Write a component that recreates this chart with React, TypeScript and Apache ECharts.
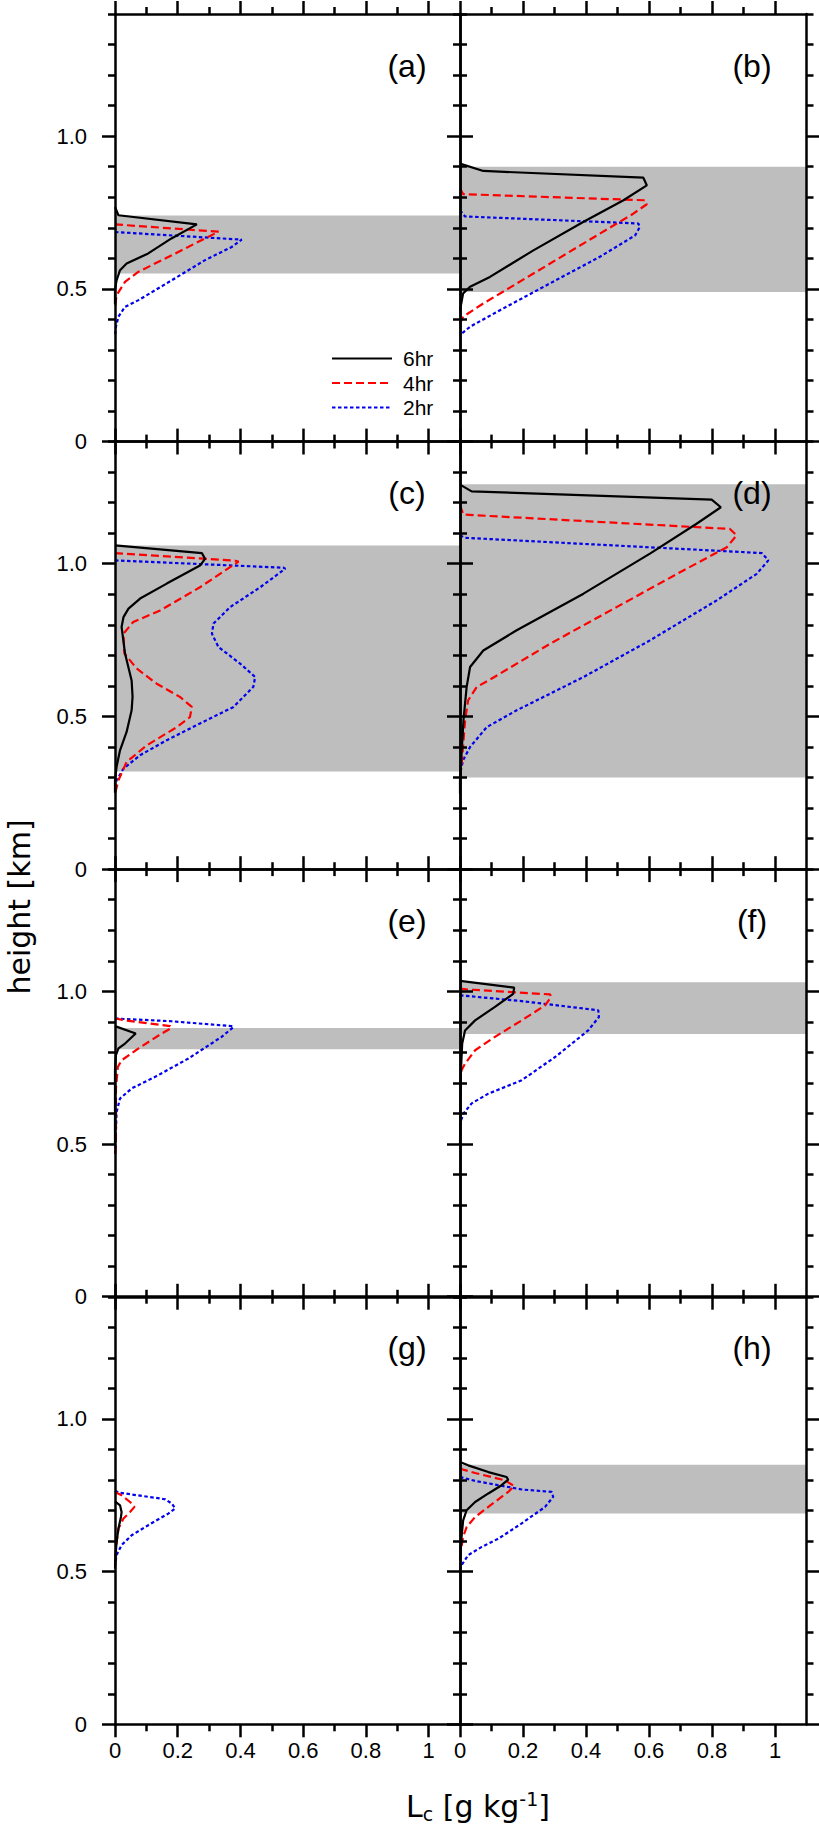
import React, { useEffect, useRef } from 'react';
import * as echarts from 'echarts';

// ---- data ----
const panelLabels = ['(a)', '(b)', '(c)', '(d)', '(e)', '(f)', '(g)', '(h)'];
const seriesNames = ['6hr', '4hr', '2hr'];
const xTickValues = [0, 0.2, 0.4, 0.6, 0.8, 1];
const xMinorValues = [0.1, 0.3, 0.5, 0.7, 0.9];
const yTickValues = [0, 0.5, 1.0];
const yMinorValues = [0.1, 0.2, 0.3, 0.4, 0.6, 0.7, 0.8, 0.9, 1.1, 1.2, 1.3, 1.4];
const xTitle = '{m|L}{s|c}{m| [g kg}{p|-1}{m|]}';
const yTitle = 'height [km]';

// [Lc, height] pairs
const a6 = [[0, 0.768], [0.011, 0.741], [0.261, 0.711], [0.18, 0.665], [0.106, 0.616], [0.037, 0.583], [0.016, 0.561], [0.005, 0.528], [0, 0.496], [0, 0.45]];
const a4 = [[0, 0.711], [0.33, 0.687], [0.287, 0.665], [0.181, 0.61], [0.075, 0.556], [0.032, 0.523], [0.005, 0.479], [0, 0.44]];
const a2 = [[0, 0.686], [0.404, 0.661], [0.372, 0.637], [0.287, 0.594], [0.181, 0.528], [0.075, 0.463], [0.032, 0.441], [0.011, 0.409], [0.003, 0.376], [0, 0.343]];

const b6 = [[0, 0.91], [0.074, 0.886], [0.582, 0.864], [0.593, 0.839], [0.519, 0.79], [0.391, 0.719], [0.233, 0.626], [0.095, 0.539], [0.032, 0.507], [0.01, 0.485], [0, 0.43]];
const b4 = [[0, 0.828], [0.01, 0.81], [0.587, 0.79], [0.593, 0.777], [0.55, 0.746], [0.391, 0.648], [0.233, 0.55], [0.074, 0.452], [0.01, 0.409], [0, 0.386]];
const b2 = [[0, 0.757], [0.016, 0.737], [0.566, 0.714], [0.571, 0.703], [0.556, 0.675], [0.444, 0.605], [0.286, 0.518], [0.127, 0.43], [0.032, 0.376], [0, 0.349]];

const c6 = [[0, 1.06], [0.277, 1.035], [0.287, 1.016], [0.271, 0.994], [0.165, 0.935], [0.08, 0.886], [0.043, 0.853], [0.027, 0.825], [0.021, 0.793], [0.032, 0.706], [0.053, 0.618], [0.056, 0.564], [0.053, 0.52], [0.037, 0.449], [0.016, 0.389], [0.005, 0.335], [0, 0.29], [0, 0.25]];
const c4 = [[0, 1.035], [0.383, 1.01], [0.394, 1.007], [0.367, 0.989], [0.271, 0.923], [0.144, 0.847], [0.058, 0.809], [0.027, 0.771], [0.03, 0.706], [0.069, 0.657], [0.133, 0.607], [0.207, 0.564], [0.245, 0.531], [0.239, 0.498], [0.197, 0.465], [0.101, 0.405], [0.037, 0.351], [0.011, 0.291], [0, 0.247]];
const c2 = [[0, 1.011], [0.537, 0.987], [0.543, 0.984], [0.463, 0.923], [0.367, 0.858], [0.314, 0.804], [0.309, 0.771], [0.33, 0.727], [0.399, 0.673], [0.447, 0.629], [0.441, 0.597], [0.378, 0.531], [0.271, 0.477], [0.165, 0.422], [0.08, 0.373], [0.027, 0.329], [0.005, 0.291], [0, 0.269]];

const d6 = [[0, 1.259], [0.037, 1.237], [0.799, 1.21], [0.828, 1.185], [0.751, 1.131], [0.603, 1.033], [0.392, 0.902], [0.18, 0.782], [0.074, 0.716], [0.032, 0.662], [0.021, 0.596], [0.011, 0.487], [0.005, 0.378], [0, 0.291], [0, 0.247]];
const d4 = [[0, 1.191], [0.011, 1.161], [0.857, 1.114], [0.878, 1.093], [0.847, 1.054], [0.709, 0.978], [0.497, 0.858], [0.286, 0.738], [0.127, 0.64], [0.053, 0.596], [0.026, 0.553], [0.016, 0.487], [0.008, 0.378], [0.002, 0.313]];
const d2 = [[0, 1.093], [0.016, 1.085], [0.958, 1.035], [0.979, 1.011], [0.942, 0.967], [0.815, 0.88], [0.603, 0.749], [0.392, 0.629], [0.18, 0.52], [0.085, 0.465], [0.032, 0.4], [0.01, 0.357], [0, 0.313]];

const e6 = [[0, 0.886], [0.066, 0.862], [0.032, 0.829], [0.011, 0.813], [0.003, 0.791], [0, 0.742], [0, 0.5]];
const e4 = [[0, 0.911], [0.032, 0.905], [0.176, 0.886], [0.18, 0.88], [0.149, 0.862], [0.075, 0.813], [0.021, 0.774], [0.009, 0.752], [0.003, 0.682], [0.003, 0.518], [0, 0.46]];
const e2 = [[0, 0.911], [0.181, 0.902], [0.372, 0.886], [0.378, 0.883], [0.34, 0.851], [0.234, 0.78], [0.128, 0.72], [0.053, 0.682], [0.016, 0.649], [0.005, 0.605], [0.002, 0.518], [0, 0.46]];

const f6 = [[0, 1.034], [0.172, 1.012], [0.169, 0.992], [0.111, 0.949], [0.048, 0.905], [0.016, 0.872], [0.007, 0.829], [0.003, 0.742], [0, 0.5]];
const f4 = [[0, 1.009], [0.026, 1.006], [0.286, 0.99], [0.289, 0.981], [0.27, 0.954], [0.196, 0.905], [0.111, 0.851], [0.048, 0.807], [0.016, 0.763], [0.005, 0.742], [0, 0.699]];
const f2 = [[0, 0.987], [0.196, 0.968], [0.439, 0.938], [0.441, 0.916], [0.407, 0.872], [0.302, 0.785], [0.196, 0.709], [0.09, 0.665], [0.037, 0.633], [0.011, 0.6], [0, 0.567]];

const g6 = [[0, 0.73], [0.016, 0.717], [0.021, 0.695], [0.019, 0.679], [0.011, 0.641], [0.005, 0.597], [0.002, 0.554], [0, 0.51]];
const g4 = [[0, 0.761], [0.021, 0.75], [0.048, 0.728], [0.062, 0.712], [0.048, 0.695], [0.027, 0.674], [0.011, 0.641], [0.003, 0.576], [0, 0.52]];
const g2 = [[0, 0.765], [0.011, 0.759], [0.16, 0.737], [0.181, 0.723], [0.192, 0.707], [0.17, 0.69], [0.106, 0.652], [0.053, 0.619], [0.021, 0.587], [0.005, 0.554], [0, 0.52]];

const h6 = [[0, 0.859], [0.026, 0.848], [0.09, 0.826], [0.148, 0.81], [0.153, 0.801], [0.132, 0.783], [0.09, 0.756], [0.048, 0.728], [0.021, 0.701], [0.01, 0.668], [0.005, 0.614], [0, 0.537]];
const h4 = [[0, 0.837], [0.048, 0.823], [0.143, 0.799], [0.172, 0.78], [0.153, 0.761], [0.09, 0.712], [0.048, 0.679], [0.021, 0.646], [0.01, 0.614], [0.003, 0.57], [0, 0.54]];
const h2 = [[0, 0.81], [0.048, 0.797], [0.196, 0.769], [0.291, 0.761], [0.296, 0.745], [0.27, 0.712], [0.196, 0.658], [0.122, 0.608], [0.069, 0.581], [0.026, 0.554], [0.005, 0.521], [0, 0.505]];

// grey cloud-layer bands [bottom, top] in km (null = none)
const bandA = [0.55, 0.74];
const bandB = [0.49, 0.90];
const bandC = [0.32, 1.06];
const bandD = [0.30, 1.26];
const bandE = [0.81, 0.88];
const bandF = [0.86, 1.03];
const bandG = null;
const bandH = [0.69, 0.85];

const profiles6 = [a6, b6, c6, d6, e6, f6, g6, h6];
const profiles4 = [a4, b4, c4, d4, e4, f4, g4, h4];
const profiles2 = [a2, b2, c2, d2, e2, f2, g2, h2];
const bands = [bandA, bandB, bandC, bandD, bandE, bandF, bandG, bandH];

// ---- layout ----
const X_MAX = 1.1;
const Y_MAX = 1.4;
const LEFTS = [115, 460];
const WIDTHS = [345, 346.5];
const TOPS = [14, 441.6, 869.2, 1296.8];
const PANEL_H = 427.5;

const lineStyles = [
  { color: '#000000', width: 2.2, type: 'solid', z: 5 },
  { color: '#ff0000', width: 2.2, type: [8, 4], z: 4 },
  { color: '#0000ee', width: 2.2, type: [3.5, 2.5], z: 3 },
];

function buildOption() {
  const grid: any[] = [];
  const xAxis: any[] = [];
  const yAxis: any[] = [];
  const series: any[] = [];
  const graphic: any[] = [];

  const tickFont = { fontSize: 22, fontFamily: 'Liberation Sans, Arial, sans-serif', color: '#000' };

  for (let i = 0; i < 8; i++) {
    const col = i % 2;
    const row = Math.floor(i / 2);
    grid.push({
      left: LEFTS[col], top: TOPS[row], width: WIDTHS[col], height: PANEL_H,
      containLabel: false, outerBoundsMode: 'none',
    });
    const mkX = (position: string, major: boolean, showLabel: boolean) => ({
      type: 'value', gridIndex: i, position, min: 0, max: X_MAX, z: 10,
      splitLine: { show: false },
      axisLine: { show: major, onZero: false, lineStyle: { color: '#000', width: 2.5 } },
      axisTick: {
        show: true, inside: false, length: major ? 13 : 7,
        lineStyle: { color: '#000', width: 2.5 },
        customValues: major ? xTickValues : xMinorValues,
      },
      axisLabel: { show: showLabel, customValues: xTickValues, margin: 15, ...tickFont },
    });
    const mkY = (position: string, major: boolean, showLabel: boolean) => ({
      type: 'value', gridIndex: i, position, min: 0, max: Y_MAX, z: 10,
      splitLine: { show: false },
      axisLine: { show: major, onZero: false, lineStyle: { color: '#000', width: 2.5 } },
      axisTick: {
        show: true, inside: false, length: major ? 13 : 7,
        lineStyle: { color: '#000', width: 2.5 },
        customValues: major ? yTickValues : yMinorValues,
      },
      axisLabel: {
        show: showLabel, customValues: yTickValues, margin: 28, ...tickFont,
        formatter: (v: number) => (v === 0 ? '0' : v.toFixed(1)),
      },
    });
    const xi = xAxis.length;
    xAxis.push(mkX('bottom', true, row === 3));
    xAxis.push(mkX('bottom', false, false));
    xAxis.push(mkX('top', true, false));
    xAxis.push(mkX('top', false, false));
    const yi = yAxis.length;
    yAxis.push(mkY('left', true, col === 0));
    yAxis.push(mkY('left', false, false));
    yAxis.push(mkY('right', true, false));
    yAxis.push(mkY('right', false, false));

    const band = bands[i];
    series.push({
      type: 'line', name: 'band', xAxisIndex: xi, yAxisIndex: yi, data: [], z: 1, silent: true,
      markArea: {
        silent: true, z: 1,
        itemStyle: { color: '#bebebe', opacity: 1 },
        data: band ? [[{ xAxis: 0, yAxis: band[0] }, { xAxis: X_MAX, yAxis: band[1] }]] : [],
      },
    });
    const profs = [profiles6[i], profiles4[i], profiles2[i]];
    profs.forEach((p, k) => {
      const ls = lineStyles[k];
      series.push({
        type: 'line', name: seriesNames[k], xAxisIndex: xi, yAxisIndex: yi,
        data: p, symbol: 'none', showSymbol: false, z: ls.z, silent: true,
        color: ls.color,
        itemStyle: { color: ls.color },
        lineStyle: { color: ls.color, width: ls.width, type: ls.type },
      });
    });

    graphic.push({
      type: 'text', x: LEFTS[col] + 292, y: TOPS[row] + 51.5, z: 20,
      style: {
        text: panelLabels[i], fontSize: 32, fontFamily: 'Liberation Sans, Arial, sans-serif',
        fill: '#000', align: 'center', verticalAlign: 'middle',
      },
    });
  }

  graphic.push({
    type: 'text', x: 19, y: 907, rotation: Math.PI / 2, z: 20,
    style: {
      text: yTitle, fontSize: 30, fontFamily: 'DejaVu Sans, sans-serif', fill: '#000',
      align: 'center', verticalAlign: 'middle',
    },
  });
  graphic.push({
    type: 'text', x: 478, y: 1806, z: 20,
    style: {
      text: xTitle, align: 'center', verticalAlign: 'middle', fill: '#000',
      rich: {
        m: { fontSize: 30, fontFamily: 'DejaVu Sans, sans-serif', lineHeight: 34, verticalAlign: 'middle' },
        s: { fontSize: 19, fontFamily: 'DejaVu Sans, sans-serif', lineHeight: 12, verticalAlign: 'bottom' },
        p: { fontSize: 19, fontFamily: 'DejaVu Sans, sans-serif', lineHeight: 12, verticalAlign: 'top' },
      },
    },
  });

  return {
    animation: false,
    backgroundColor: '#ffffff',
    grid, xAxis, yAxis, series, graphic,
    legend: {
      data: seriesNames, orient: 'vertical', left: 331, top: 348, padding: 0,
      itemWidth: 60, itemHeight: 14, itemGap: 3.5, selectedMode: false,
      itemStyle: { opacity: 0 },
      textStyle: {
        fontSize: 21, fontFamily: 'Liberation Sans, Arial, sans-serif', color: '#000',
        lineHeight: 20, padding: [0, 0, 0, 6],
      },
    },
  };
}

export default function App() {
  const ref = useRef<HTMLDivElement>(null);
  useEffect(() => {
    if (!ref.current) return;
    const chart = echarts.init(ref.current, undefined, { renderer: 'svg' });
    chart.setOption(buildOption() as any);
    return () => chart.dispose();
  }, []);
  return (
    <div
      ref={ref}
      style={{ position: 'absolute', left: 0, top: 0, width: 819, height: 1825, background: '#fff' }}
    />
  );
}
